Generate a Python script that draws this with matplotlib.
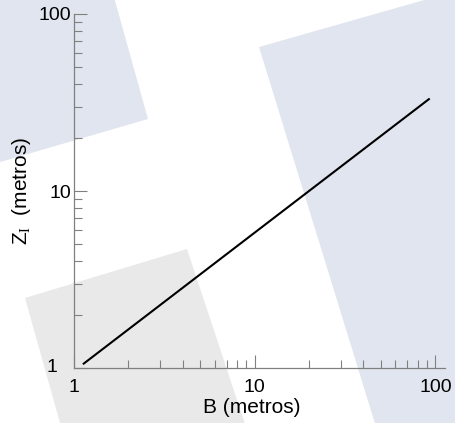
import matplotlib
matplotlib.use("Agg")
import matplotlib.pyplot as plt
from matplotlib.patches import Polygon
from matplotlib.ticker import LogLocator, NullFormatter, FixedLocator, FixedFormatter

# datos
b_vals = [1.12, 93.0]        # B (metros)
z_vals = [1.05, 33.3]        # Z_I (metros)
x_ticks = [1, 10, 100]
x_tick_labels = ["1", "10", "100"]
y_ticks = [1, 10, 100]
y_tick_labels = ["", "10", "100"]   # el "1" se coloca aparte

plt.rcParams['font.family'] = ['Liberation Sans', 'DejaVu Sans']
plt.rcParams['mathtext.fontset'] = 'custom'
plt.rcParams['mathtext.rm'] = 'Liberation Serif'
plt.rcParams['mathtext.it'] = 'Liberation Serif:italic'
plt.rcParams['mathtext.bf'] = 'Liberation Serif:bold'

W, H = 455, 423
fig = plt.figure(figsize=(W / 100, H / 100), dpi=100)


def px(pts):
    # pixeles (desde arriba) -> fraccion de figura
    return [(x / W, 1 - y / H) for x, y in pts]


# marca de agua de fondo
blue = "#e0e5ef"
grey = "#e9e9e9"
fig.add_artist(Polygon(px([(-10, -10), (112, -10), (148, 119), (-10, 165)]),
                       closed=True, transform=fig.transFigure, color=blue, lw=0, zorder=0))
fig.add_artist(Polygon(px([(259, 47), (470, -13), (470, 430), (377, 430)]),
                       closed=True, transform=fig.transFigure, color=blue, lw=0, zorder=0))
fig.add_artist(Polygon(px([(25, 298), (187, 249), (247, 430), (62, 430)]),
                       closed=True, transform=fig.transFigure, color=grey, lw=0, zorder=0))

ax = fig.add_axes([74 / W, 55 / H, (445 - 74) / W, (409 - 55) / H])
ax.set_facecolor("none")
ax.set_zorder(2)

ax.plot(b_vals, z_vals, color="black", lw=1.5, solid_capstyle="butt")

ax.set_xscale("log")
ax.set_yscale("log")
ax.set_xlim(1, 113)
ax.set_ylim(1, 100)

ax.xaxis.set_major_locator(FixedLocator(x_ticks))
ax.xaxis.set_major_formatter(FixedFormatter(x_tick_labels))
ax.yaxis.set_major_locator(FixedLocator(y_ticks))
ax.yaxis.set_major_formatter(FixedFormatter(y_tick_labels))
ax.xaxis.set_minor_locator(LogLocator(base=10, subs=range(2, 10)))
ax.yaxis.set_minor_locator(LogLocator(base=10, subs=range(2, 10)))
ax.xaxis.set_minor_formatter(NullFormatter())
ax.yaxis.set_minor_formatter(NullFormatter())

for s in ["top", "right"]:
    ax.spines[s].set_visible(False)
for s in ["left", "bottom"]:
    ax.spines[s].set_color("#808080")
    ax.spines[s].set_linewidth(0.9)

ax.tick_params(which="major", direction="in", length=9.5, width=0.8, color="#808080",
               labelsize=14, labelcolor="black")
ax.tick_params(which="minor", direction="in", length=6, width=0.8, color="#808080")
ax.tick_params(axis="y", which="major", pad=2)
ax.tick_params(axis="x", which="major", pad=8)

# etiqueta "1" del eje y, desplazada a la izquierda
ax.annotate("1", xy=(1, 1), xycoords="data", xytext=(-17, 1), textcoords="offset pixels",
            ha="right", va="center", fontsize=14)

ax.set_xlabel("B (metros)", fontsize=15, labelpad=0)
ax.xaxis.set_label_coords(0.48, -0.085)
ax.set_ylabel(r"Z$_\mathrm{I}$  (metros)", fontsize=15, labelpad=4)

fig.savefig("out.png", dpi=100)
